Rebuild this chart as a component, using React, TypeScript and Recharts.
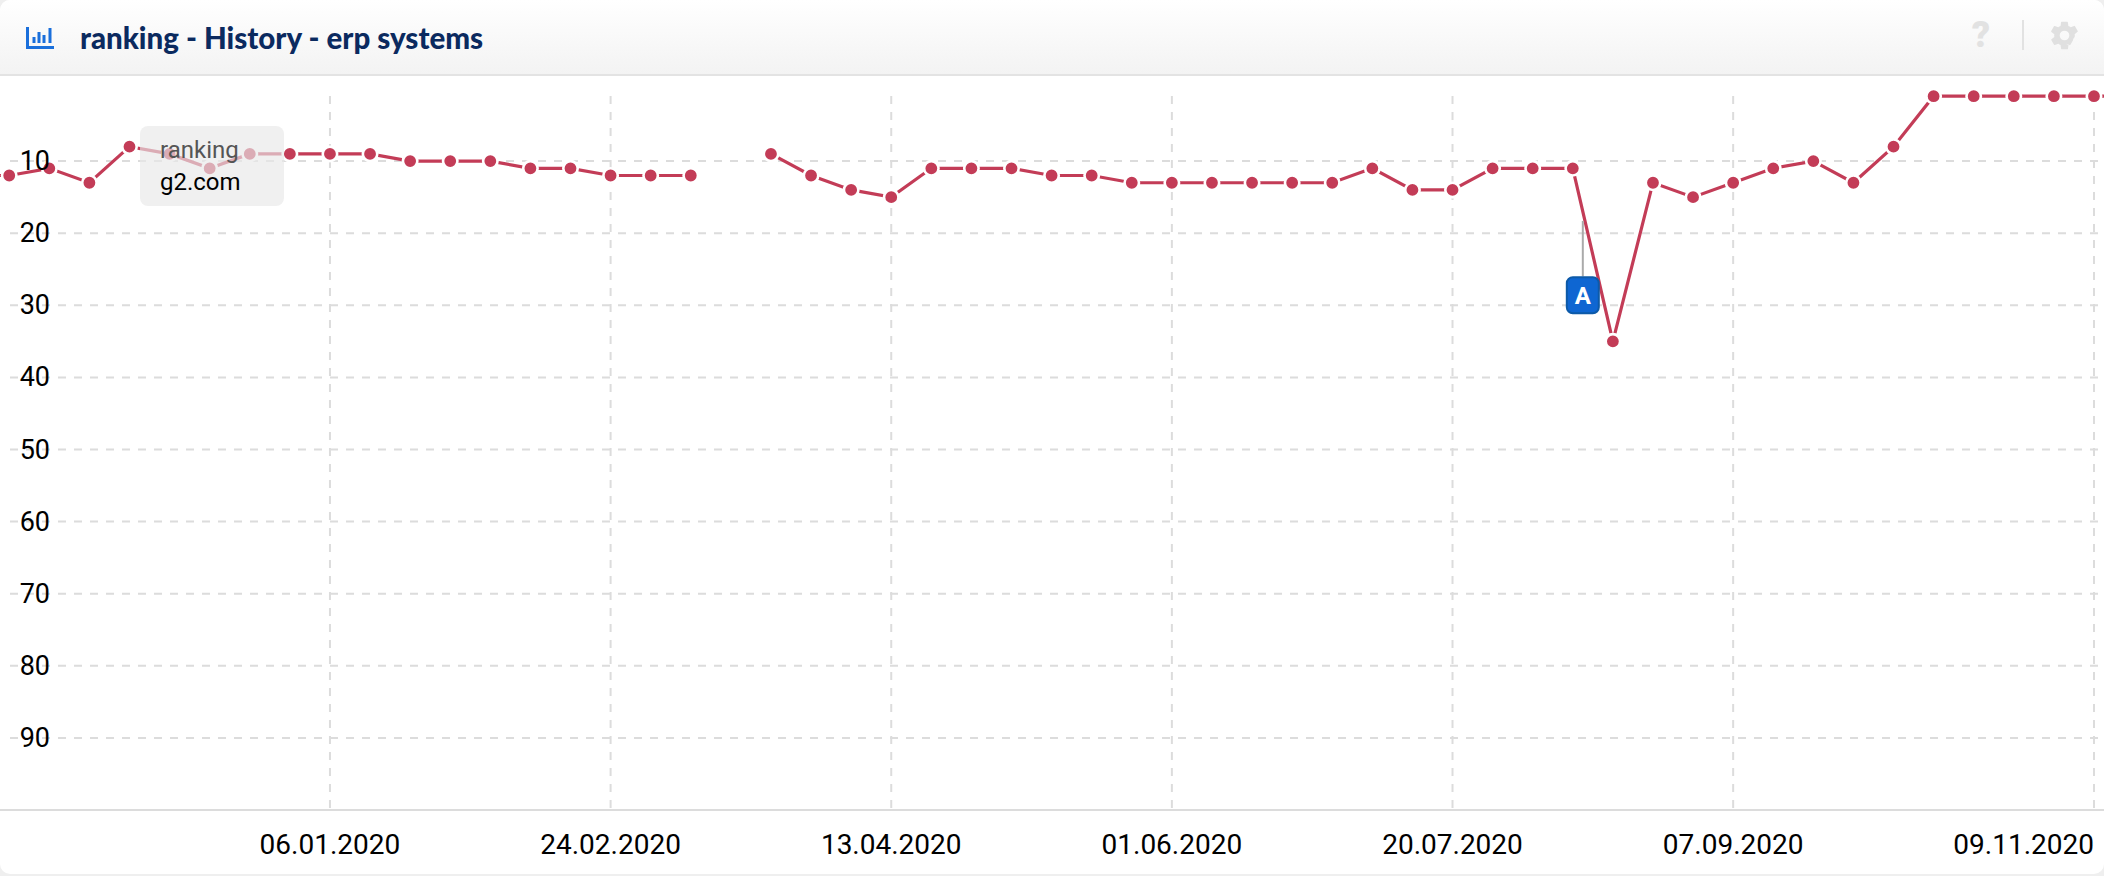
import React from "react";
import { LineChart, Line, XAxis, YAxis, CartesianGrid, ReferenceLine, ReferenceDot } from "recharts";

// Week offsets relative to the week of 06.01.2020; a gap in the series is a null rank.
const weeks = [
  -9, -8, -7, -6, -5, -4, -3, -2, -1, 0, 1, 2, 3, 4, 5, 6, 7, 8, 9, 10, 11, 12, 13, 14, 15, 16, 17, 18, 19, 20,
  21, 22, 23, 24, 25, 26, 27, 28, 29, 30, 31, 32, 33, 34, 35, 36, 37, 38, 39, 40, 41, 42, 43, 44, 45,
];
const ranks: (number | null)[] = [
  12, 12, 11, 13, 8, 9, 11, 9, 9, 9, 9, 10, 10, 10, 11, 11, 12, 12, 12, null, 9, 12, 14, 15, 11, 11, 11, 12, 12, 13,
  13, 13, 13, 13, 13, 11, 14, 14, 11, 11, 11, 35, 13, 15, 13, 11, 10, 13, 8, 1, 1, 1, 1, 1, 1,
];
const xTickWeeks = [0, 7, 14, 21, 28, 35, 44];
const xTickLabels = ["06.01.2020", "24.02.2020", "13.04.2020", "01.06.2020", "20.07.2020", "07.09.2020", "09.11.2020"];
const yTicks = [10, 20, 30, 40, 50, 60, 70, 80, 90];
const annotationWeek = 31.25;
const annotationStem = [18.3, 26];
const annotationLabel = "A";
const seriesName = "ranking";
const domainName = "g2.com";
const titleText = "ranking - History - erp systems";

const data = weeks.map((week, i) => ({ week, rank: ranks[i] }));

const RED = "#c33c57";
const GRID = "#dcdcdc";

function YTick(props: any) {
  const { y, payload } = props;
  return (
    <text x={50} y={y} textAnchor="end" dominantBaseline="central" fontFamily="Roboto" fontSize={27} fill="#000">
      {payload.value}
    </text>
  );
}

function XTick(props: any) {
  const { x, payload } = props;
  const idx = xTickWeeks.indexOf(payload.value);
  const last = idx === xTickWeeks.length - 1;
  return (
    <text
      x={last ? 2094 : x}
      y={844}
      textAnchor={last ? "end" : "middle"}
      dominantBaseline="central"
      fontFamily="Roboto"
      fontSize={28}
      fill="#000"
    >
      {xTickLabels[idx]}
    </text>
  );
}

function Flag(props: any) {
  const { cx, cy } = props;
  return (
    <g>
      <rect x={cx - 16} y={cy - 18} width={32} height={36} rx={6} fill="#0e66d2" stroke="#0d5aa8" strokeWidth={2} />
      <text x={cx} y={cy + 1} textAnchor="middle" dominantBaseline="central" fontFamily="Roboto" fontWeight={700} fontSize={24} fill="#fff">
        {annotationLabel}
      </text>
    </g>
  );
}

function HGridLine(props: any) {
  const { y1, x2, key } = props;
  return <line key={key} x1={10} x2={x2} y1={y1} y2={y1} stroke={GRID} strokeWidth={2} strokeDasharray="8 8" />;
}

function VGridLine(props: any) {
  const { x1, y2, key } = props;
  return <line key={key} x1={x1} x2={x1} y1={96} y2={y2} stroke={GRID} strokeWidth={2} strokeDasharray="8 8" />;
}

export default function App() {
  return (
    <div style={{ position: "absolute", left: 0, top: 0, width: 2104, height: 876, background: "#efefef", overflow: "hidden" }}>
      <div style={{ position: "absolute", left: 0, top: 0, width: 2104, height: 874, background: "#fff", borderRadius: 10 }} />
      <div
        style={{
          position: "absolute",
          left: 0,
          top: 0,
          width: 2104,
          height: 74,
          background: "linear-gradient(#ffffff, #f3f3f3)",
          borderBottom: "2px solid #e3e3e3",
          borderRadius: "10px 10px 0 0",
        }}
      />
      <svg style={{ position: "absolute", left: 26, top: 27 }} width={28} height={22} viewBox="0 0 28 22">
        <path d="M1.5 0v20.5h26.5" fill="none" stroke="#1a6fdb" strokeWidth={3} />
        <path d="M8 10v6M13 5v11M18 8v8M24 1v15" fill="none" stroke="#1a6fdb" strokeWidth={3} />
      </svg>
      <div
        style={{
          position: "absolute",
          left: 80,
          top: 19,
          height: 38,
          lineHeight: "38px",
          fontFamily: "Lato",
          fontWeight: 900,
          fontSize: 29.5,
          color: "#0b2a5f",
          whiteSpace: "nowrap",
        }}
      >
        {titleText}
      </div>
      <div
        style={{
          position: "absolute",
          left: 1966,
          top: 16,
          width: 30,
          textAlign: "center",
          fontFamily: "Roboto",
          fontWeight: 900,
          fontSize: 36,
          lineHeight: "38px",
          color: "#e2e2e2",
        }}
      >
        ?
      </div>
      <div style={{ position: "absolute", left: 2022, top: 20, width: 2, height: 30, background: "#e2e2e2" }} />
      <svg style={{ position: "absolute", left: 2048, top: 19 }} width={33} height={33} viewBox="0 0 24 24">
        <path
          fill="#e0e0e0"
          d="M19.4 13c.04-.33.1-.66.1-1s-.06-.67-.1-1l2.1-1.65a.5.5 0 0 0 .12-.64l-2-3.46a.5.5 0 0 0-.61-.22l-2.49 1a7.3 7.3 0 0 0-1.69-.98l-.38-2.65A.49.49 0 0 0 14 2h-4a.49.49 0 0 0-.49.42l-.38 2.65c-.61.25-1.17.59-1.69.98l-2.49-1a.49.49 0 0 0-.61.22l-2 3.46a.49.49 0 0 0 .12.64L4.6 11c-.04.33-.1.67-.1 1s.06.67.1 1l-2.11 1.65a.5.5 0 0 0-.12.64l2 3.46c.12.22.39.3.61.22l2.49-1c.52.4 1.08.73 1.69.98l.38 2.65c.03.24.24.42.49.42h4c.25 0 .46-.18.49-.42l.38-2.65c-.61-.25-1.17-.59-1.69-.98l2.49 1c.23.09.49 0 .61-.22l2-3.46a.5.5 0 0 0-.12-.64L19.4 13zM12 15.5a3.5 3.5 0 1 1 0-7 3.5 3.5 0 0 1 0 7z"
        />
      </svg>

      <div style={{ position: "absolute", left: 0, top: 0 }}>
        <LineChart width={2104} height={876} data={data} margin={{ top: 89, right: 0, bottom: 0, left: -60 }}>
          <CartesianGrid
            horizontalValues={yTicks}
            verticalValues={xTickWeeks}
            horizontal={(p: any) => <HGridLine {...p} />}
            vertical={(p: any) => <VGridLine {...p} />}
          />
          <XAxis
            dataKey="week"
            type="number"
            domain={[-8.23, 44.25]}
            allowDataOverflow
            ticks={xTickWeeks}
            height={66}
            tick={<XTick />}
            tickLine={false}
            axisLine={{ stroke: "#dcdcdc", strokeWidth: 2 }}
          />
          <YAxis
            type="number"
            reversed
            domain={[0, 100]}
            ticks={yTicks}
            width={60}
            tick={<YTick />}
            tickLine={false}
            axisLine={false}
          />
          <Line
            type="linear"
            dataKey="rank"
            stroke={RED}
            strokeWidth={3.2}
            connectNulls={false}
            isAnimationActive={false}
            dot={{ r: 7.2, fill: RED, stroke: "#fff", strokeWidth: 2.6 }}
            activeDot={false}
          />
          <ReferenceLine
            segment={[
              { x: annotationWeek, y: annotationStem[0] },
              { x: annotationWeek, y: annotationStem[1] },
            ]}
            stroke="#aaaaaa"
            strokeWidth={2}
          />
          <ReferenceDot x={annotationWeek} y={28.6} shape={<Flag />} />
        </LineChart>
      </div>

      <div
        style={{
          position: "absolute",
          left: 140,
          top: 126,
          width: 144,
          height: 80,
          borderRadius: 8,
          background: "rgba(232,232,232,0.65)",
          fontFamily: "Roboto",
          fontSize: 24,
          lineHeight: "32px",
        }}
      >
        <div style={{ position: "absolute", left: 20, top: 8, color: "#555" }}>{seriesName}</div>
        <div style={{ position: "absolute", left: 20, top: 40, color: "#000" }}>{domainName}</div>
      </div>
    </div>
  );
}
